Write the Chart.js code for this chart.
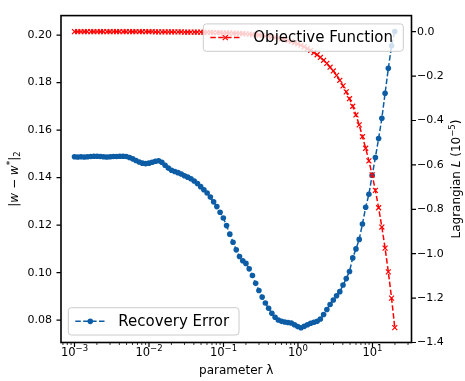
<!DOCTYPE html>
<html>
<head>
<meta charset="utf-8">
<script src="https://cdn.jsdelivr.net/npm/chart.js@4"></script>
<style>
  html, body { margin: 0; padding: 0; background: #fff; }
  #wrap { width: 465px; height: 381px; }
</style>
</head>
<body>
<div id="wrap"><canvas id="chart" width="465" height="381"></canvas></div>
<script>
// parameter lambda (x values, log spaced)
const lambdas = [
  0.001000, 0.001105, 0.001221, 0.001350, 0.001492, 0.001649, 0.001822, 0.002014, 0.002226, 0.002460,
  0.002718, 0.003004, 0.003320, 0.003669, 0.004055, 0.004482, 0.004953, 0.005474, 0.006050, 0.006686,
  0.007389, 0.008166, 0.009025, 0.009974, 0.011023, 0.012182, 0.013464, 0.014880, 0.016445, 0.018174,
  0.020086, 0.022198, 0.024533, 0.027113, 0.029964, 0.033115, 0.036598, 0.040447, 0.044701, 0.049402,
  0.054598, 0.060340, 0.066686, 0.073700, 0.081451, 0.090017, 0.099484, 0.109947, 0.121510, 0.134290,
  0.148413, 0.164022, 0.181272, 0.200337, 0.221406, 0.244692, 0.270426, 0.298867, 0.330300, 0.365037,
  0.403429, 0.445858, 0.492749, 0.544572, 0.601845, 0.665142, 0.735095, 0.812406, 0.897847, 0.992275,
  1.096633, 1.211967, 1.339431, 1.480300, 1.635984, 1.808042, 1.998196, 2.208348, 2.440602, 2.697282,
  2.980958, 3.294468, 3.640950, 4.023872, 4.447067, 4.914769, 5.431660, 6.002912, 6.634244, 7.331974,
  8.103084, 8.955293, 9.897129, 10.938019, 12.088381, 13.359727, 14.764781, 16.317607, 18.033744, 19.930370
];

// |w - w*|_2  (left axis)
const recoveryError = [
  0.1488, 0.1487, 0.1488, 0.1487, 0.1488, 0.1489, 0.1490, 0.1490, 0.1489, 0.1488,
  0.1487, 0.1488, 0.1489, 0.1489, 0.1490, 0.1490, 0.1489, 0.1485, 0.1479, 0.1472,
  0.1466, 0.1461, 0.1459, 0.1461, 0.1465, 0.1469, 0.1471, 0.1465, 0.1452, 0.1440,
  0.1431, 0.1426, 0.1421, 0.1415, 0.1408, 0.1402, 0.1395, 0.1386, 0.1375, 0.1362,
  0.1349, 0.1335, 0.1318, 0.1298, 0.1278, 0.1254, 0.1230, 0.1198, 0.1162, 0.1128,
  0.1096, 0.1068, 0.1050, 0.1039, 0.1016, 0.0988, 0.0955, 0.0925, 0.0897, 0.0872,
  0.0850, 0.0829, 0.0812, 0.0801, 0.0795, 0.0792, 0.0790, 0.0788, 0.0781, 0.0773,
  0.0768, 0.0774, 0.0781, 0.0787, 0.0791, 0.0795, 0.0805, 0.0824, 0.0845, 0.0866,
  0.0885, 0.0903, 0.0920, 0.0948, 0.0975, 0.1005, 0.1062, 0.1100, 0.1140, 0.1205,
  0.1275, 0.1330, 0.1410, 0.1485, 0.1565, 0.1650, 0.1755, 0.1860, 0.1955, 0.2015
];

// Lagrangian L in units of 1e-5 (right axis)
const objective = [
  0.000, 0.000, 0.000, 0.000, 0.000, 0.000, 0.000, 0.000, 0.000, 0.000,
  0.000, 0.000, 0.000, 0.000, 0.000, 0.000, 0.000, 0.000, 0.000, 0.000,
  0.000, 0.000, 0.000, 0.000, 0.000, -0.001, -0.001, -0.001, -0.001, -0.001,
  -0.001, -0.001, -0.001, -0.001, -0.002, -0.002, -0.002, -0.002, -0.002, -0.002,
  -0.003, -0.003, -0.003, -0.004, -0.004, -0.004, -0.005, -0.005, -0.006, -0.007,
  -0.007, -0.008, -0.009, -0.010, -0.011, -0.013, -0.014, -0.015, -0.017, -0.019,
  -0.021, -0.024, -0.026, -0.029, -0.032, -0.036, -0.040, -0.045, -0.050, -0.055,
  -0.061, -0.068, -0.076, -0.084, -0.094, -0.104, -0.116, -0.129, -0.143, -0.160,
  -0.177, -0.197, -0.219, -0.244, -0.271, -0.302, -0.336, -0.375, -0.420, -0.473,
  -0.525, -0.582, -0.645, -0.715, -0.793, -0.880, -0.975, -1.082, -1.200, -1.333
];

const xTickValues = [0.001, 0.01, 0.1, 1, 10];
const xTickExps = ["−3", "−2", "−1", "0", "1"];
const leftTicks = [0.08, 0.10, 0.12, 0.14, 0.16, 0.18, 0.20];
const rightTicks = [0.0, -0.2, -0.4, -0.6, -0.8, -1.0, -1.2, -1.4];

const FONT = "'DejaVu Sans', sans-serif";
const BLUE = "#0C5DA5";
const RED = "#ff0000";

function fontStr(p) {
  return (p.italic ? "italic " : "") + (p.size || 12) + "px " + FONT;
}

// draws a short piece of mixed text (italic, super/subscript) centred on x,y
function drawRich(ctx, parts, x, y, rot) {
  ctx.save();
  ctx.translate(x, y);
  ctx.rotate(rot);
  let w = 0;
  parts.forEach(p => { ctx.font = fontStr(p); p.w = ctx.measureText(p.t).width; w += p.w; });
  let cx = -w / 2;
  ctx.textBaseline = "middle";
  ctx.textAlign = "left";
  ctx.fillStyle = "#000";
  parts.forEach(p => { ctx.font = fontStr(p); ctx.fillText(p.t, cx, p.dy || 0); cx += p.w; });
  ctx.restore();
}

function drawMarker(ctx, style, x, y, color) {
  ctx.save();
  ctx.setLineDash([]);
  if (style === "circle") {
    ctx.fillStyle = color;
    ctx.beginPath();
    ctx.arc(x, y, 2.8, 0, Math.PI * 2);
    ctx.fill();
  } else {
    ctx.strokeStyle = color;
    ctx.lineWidth = 1.2;
    ctx.beginPath();
    ctx.moveTo(x - 2.5, y - 2.5); ctx.lineTo(x + 2.5, y + 2.5);
    ctx.moveTo(x - 2.5, y + 2.5); ctx.lineTo(x + 2.5, y - 2.5);
    ctx.stroke();
  }
  ctx.restore();
}

function drawLegend(ctx, x0, y0, x1, y1, color, style, label) {
  ctx.save();
  ctx.beginPath();
  ctx.roundRect(x0, y0, x1 - x0, y1 - y0, 3);
  ctx.fillStyle = "rgba(255,255,255,0.8)";
  ctx.fill();
  ctx.strokeStyle = "#cccccc";
  ctx.lineWidth = 1;
  ctx.stroke();
  const cy = (y0 + y1) / 2;
  ctx.strokeStyle = color;
  ctx.lineWidth = 1.5;
  ctx.setLineDash([5.5, 2.4]);
  ctx.beginPath();
  ctx.moveTo(x0 + 7, cy);
  ctx.lineTo(x0 + 37, cy);
  ctx.stroke();
  drawMarker(ctx, style, x0 + 22, cy, color);
  ctx.fillStyle = "#000";
  ctx.font = "15px " + FONT;
  ctx.textBaseline = "middle";
  ctx.fillText(label, x0 + 50, cy + 1);
  ctx.restore();
}

const decorPlugin = {
  id: "decor",
  afterDatasetsDraw(chart) {
    const { ctx, chartArea: a, scales } = chart;
    ctx.save();
    ctx.strokeStyle = "#000";
    // x ticks (major + minor)
    for (let d = -4; d <= 1; d++) {
      for (let m = 1; m <= 9; m++) {
        const v = m * Math.pow(10, d);
        if (v < scales.x.min || v > scales.x.max) continue;
        const px = scales.x.getPixelForValue(v);
        ctx.lineWidth = m === 1 ? 1.2 : 0.8;
        ctx.beginPath();
        ctx.moveTo(px, a.bottom);
        ctx.lineTo(px, a.bottom + (m === 1 ? 4.5 : 2.5));
        ctx.stroke();
      }
    }
    ctx.lineWidth = 1.2;
    ctx.beginPath();
    leftTicks.forEach(v => {
      const py = scales.y.getPixelForValue(v);
      ctx.moveTo(a.left, py); ctx.lineTo(a.left - 4.5, py);
    });
    rightTicks.forEach(v => {
      const py = scales.y2.getPixelForValue(v);
      ctx.moveTo(a.right, py); ctx.lineTo(a.right + 4.5, py);
    });
    ctx.stroke();
    // frame
    ctx.lineWidth = 1.6;
    ctx.strokeRect(a.left, a.top, a.right - a.left, a.bottom - a.top);
    ctx.restore();

    // x tick labels as 10^n
    xTickValues.forEach((v, i) => {
      const px = scales.x.getPixelForValue(v);
      drawRich(ctx, [{ t: "10", size: 11.5 }, { t: xTickExps[i], size: 8.5, dy: -4.5 }], px, a.bottom + 11, 0);
    });

    // axis titles
    const cy = (a.top + a.bottom) / 2;
    drawRich(ctx, [
      { t: "|" }, { t: "w", italic: true }, { t: " − " }, { t: "w", italic: true },
      { t: "*", size: 9, dy: -4 }, { t: "|" }, { t: "2", size: 8.5, dy: 3 }
    ], 15, cy, -Math.PI / 2);
    drawRich(ctx, [
      { t: "Lagrangian " }, { t: "L", italic: true }, { t: " (10" },
      { t: "−5", size: 8.5, dy: -4 }, { t: ")" }
    ], 457, cy, -Math.PI / 2);

    // legends
    drawLegend(ctx, a.left + 7.3, a.bottom - 34.8, a.left + 178, a.bottom - 7.5, BLUE, "circle", "Recovery Error");
    drawLegend(ctx, a.right - 208.2, a.top + 8.3, a.right - 8.2, a.top + 35.7, RED, "cross", "Objective Function");
  }
};

const tickFont = { family: FONT, size: 11 };

new Chart(document.getElementById("chart"), {
  type: "line",
  data: {
    datasets: [
      {
        label: "Objective Function",
        data: lambdas.map((x, i) => ({ x: x, y: objective[i] })),
        yAxisID: "y2",
        borderColor: RED,
        backgroundColor: RED,
        borderWidth: 1.5,
        borderDash: [5.5, 2.4],
        pointStyle: "crossRot",
        pointRadius: 3.5,
        pointBorderWidth: 1.2,
        pointBorderColor: RED,
        tension: 0,
        order: 0
      },
      {
        label: "Recovery Error",
        data: lambdas.map((x, i) => ({ x: x, y: recoveryError[i] })),
        yAxisID: "y",
        borderColor: BLUE,
        backgroundColor: BLUE,
        borderWidth: 1.5,
        borderDash: [5.5, 2.4],
        pointStyle: "circle",
        pointRadius: 2.8,
        pointBorderWidth: 0,
        pointBackgroundColor: BLUE,
        tension: 0,
        order: 1
      }
    ]
  },
  options: {
    responsive: false,
    animation: false,
    events: [],
    layout: { padding: { top: 11, left: 0, right: 0, bottom: 0 } },
    plugins: { legend: { display: false }, tooltip: { enabled: false } },
    scales: {
      x: {
        type: "logarithmic",
        min: 0.000659,
        max: 33.4,
        afterBuildTicks: s => { s.ticks = xTickValues.map(v => ({ value: v })); },
        afterFit: s => { s.height = 38.5; },
        ticks: { autoSkip: false, maxRotation: 0, padding: 5, font: tickFont, callback: () => "" },
        grid: { display: false, drawTicks: false },
        border: { display: false },
        title: { display: true, text: "parameter λ", color: "#000", font: { family: FONT, size: 12 }, padding: { top: 0, bottom: 3 } }
      },
      y: {
        type: "linear",
        position: "left",
        min: 0.0706,
        max: 0.2082,
        afterBuildTicks: s => { s.ticks = leftTicks.map(v => ({ value: v })); },
        afterFit: s => { s.width = 61; },
        ticks: { padding: 9, color: "#000", font: tickFont, callback: v => v.toFixed(2) },
        grid: { display: false, drawTicks: false },
        border: { display: false }
      },
      y2: {
        type: "linear",
        position: "right",
        min: -1.4,
        max: 0.0724,
        afterBuildTicks: s => { s.ticks = rightTicks.map(v => ({ value: v })); },
        afterFit: s => { s.width = 53.5; },
        ticks: { padding: 5.5, color: "#000", font: tickFont, callback: v => (Math.abs(v) < 1e-9 ? "0.0" : v.toFixed(1).replace("-", "−")) },
        grid: { display: false, drawTicks: false },
        border: { display: false }
      }
    }
  },
  plugins: [decorPlugin]
});
</script>
</body>
</html>
